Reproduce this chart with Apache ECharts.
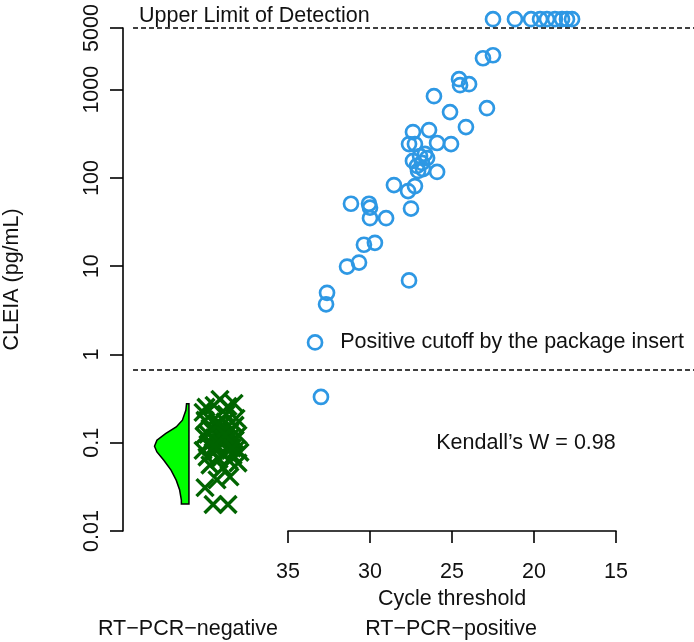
<!DOCTYPE html>
<html><head><meta charset="utf-8">
<script src="https://cdn.jsdelivr.net/npm/echarts@6/dist/echarts.min.js"></script>
<style>html,body{margin:0;padding:0;background:#fff}#c{width:694px;height:642px}</style>
</head><body><div id="c"></div>
<script>
// ---- data ----
// RT-PCR-positive: cycle threshold vs CLEIA (pg/mL); values above the upper limit plotted at 6300
const posCt = [22.50,21.16,20.18,19.63,19.21,18.72,18.29,17.99,17.68,
  23.11,22.50,24.57,24.51,23.96,26.10,25.12,22.87,24.15,27.38,26.40,
  27.62,27.26,25.91,25.06,26.95,26.65,26.52,26.83,27.13,26.77,27.38,27.07,25.91,
  28.54,27.68,27.26,31.16,30.06,30.00,30.00,29.02,27.50,30.37,29.70,
  31.40,30.67,27.62,32.62,32.68,33.35,32.99];
const posConc = [6300,6300,6300,6300,6300,6300,6300,6300,6300,
  2270,2455,1315,1125,1155,845,557,618,377,331,349,
  242,242,249,242,177,187,168,148,137,126,156,120,117,
  83,71,81,51,51,46,35,35,45,17.5,18.4,
  9.9,11,6.9,5.0,3.7,1.37,0.33];
// RT-PCR-negative: CLEIA (pg/mL) and horizontal jitter position
const negConc = [0.310,0.279,0.252,0.265,0.258,0.221,0.210,0.189,0.180,0.189,0.172,0.158,0.146,0.138,0.132,0.122,
  0.119,0.113,0.107,0.101,0.096,0.091,0.089,0.084,0.082,0.078,0.076,0.072,0.069,0.065,0.063,0.078,
  0.099,0.118,0.146,0.082,0.107,0.162,0.125,0.113,0.056,0.059,0.052,0.041,0.038,0.031,0.020,0.020,
  0.101,0.122,0.091,0.087];
const negJitter = [39.15,38.29,40.00,39.51,38.66,40.18,38.78,38.17,40.06,39.45,38.84,38.23,39.76,39.15,38.54,38.05,
  40.12,39.51,38.90,38.41,39.88,39.27,38.66,38.17,40.18,39.57,38.96,38.35,39.94,39.21,38.60,37.93,
  39.70,39.09,38.78,39.39,38.23,39.27,39.88,38.54,39.76,38.05,38.96,38.54,39.33,40.06,39.57,38.66,
  39.15,38.84,39.51,38.41];
// half-violin outline of the negative group (concentration level, relative density)
const violinConc = [0.277,0.233,0.180,0.151,0.127,0.107,0.0912,0.0787,0.0634,0.0489,0.0377,0.0291,0.0224,0.0202];
const violinDensity = [0.07,0.09,0.19,0.37,0.68,0.93,1.0,0.93,0.73,0.52,0.37,0.27,0.22,0.22];
const upperLimit = 5000;
const positiveCutoff = 0.67;
const kendallW = 0.98;
const groupNames = ['RT\u2212PCR\u2212negative', 'RT\u2212PCR\u2212positive'];

// ---- layout ----
const FONT = '"Liberation Sans", Arial, Helvetica, sans-serif';
const FS = 21.5;
const TOP = 28, BOTTOM = 111;
const negPos = 41.04, violinHalf = 2.1;
const ppu = 328 / 20;
const xMinA = 35 - (694 - 288) / ppu, xMaxA = 35 + (288 - 123) / ppu;

const chart = echarts.init(document.getElementById('c'), null, {renderer: 'canvas'});
const axisCol = '#000';
const txt = (text, x, y, align, rot) => ({
  type: 'text', x: x, y: y, rotation: rot || 0,
  style: {text: text, x: 0, y: 0, font: FS + 'px ' + FONT, fill: '#111',
    align: align, textAlign: align, verticalAlign: 'middle', textVerticalAlign: 'middle'}
});

chart.setOption({
  animation: false,
  backgroundColor: '#fff',
  grid: [
    {left: 123, top: TOP, width: 571, bottom: BOTTOM, containLabel: false, outerBoundsMode: 'none'},
    {left: 288, top: TOP, width: 328, bottom: BOTTOM, containLabel: false, outerBoundsMode: 'none'}
  ],
  xAxis: [
    {gridIndex: 0, type: 'value', inverse: true, min: xMinA, max: xMaxA, show: false},
    {gridIndex: 1, type: 'value', inverse: true, min: 15, max: 35, interval: 5,
      axisLine: {show: true, onZero: false, lineStyle: {color: axisCol, width: 1.6}},
      axisTick: {show: true, length: 12, lineStyle: {color: axisCol, width: 1.6}},
      axisLabel: {show: true, margin: 30, fontSize: FS, fontFamily: FONT, color: '#111'},
      splitLine: {show: false},
      name: 'Cycle threshold', nameLocation: 'middle', nameGap: 56,
      nameTextStyle: {fontSize: FS, fontFamily: FONT, color: '#111'}}
  ],
  yAxis: [
    {gridIndex: 0, type: 'log', logBase: 10, min: 0.01, max: upperLimit,
      axisLine: {show: true, lineStyle: {color: axisCol, width: 1.6}},
      axisTick: {show: true, length: 13, lineStyle: {color: axisCol, width: 1.6}},
      axisLabel: {show: true, rotate: 90, margin: 20, fontSize: FS, fontFamily: FONT, color: '#111',
        showMinLabel: true, showMaxLabel: true,
        formatter: v => String(+(+v).toPrecision(6))},
      minorTick: {show: false}, splitLine: {show: false}, minorSplitLine: {show: false},
      name: 'CLEIA (pg/mL)', nameLocation: 'middle', nameGap: 100, nameMoveOverlap: false,
      nameTextStyle: {fontSize: FS, fontFamily: FONT, color: '#111'}},
    {gridIndex: 1, type: 'log', logBase: 10, min: 0.01, max: upperLimit, show: false}
  ],
  series: [
    {
      type: 'custom', xAxisIndex: 0, yAxisIndex: 0, clip: false, silent: true,
      data: [[negPos, violinConc[0]]],
      renderItem: function (params, api) {
        const pts = [api.coord([negPos, violinConc[0]])];
        for (let i = 0; i < violinConc.length; i++) {
          pts.push(api.coord([negPos + violinDensity[i] * violinHalf, violinConc[i]]));
        }
        pts.push(api.coord([negPos, violinConc[violinConc.length - 1]]));
        return {type: 'polygon', shape: {points: pts},
          style: {fill: '#00FF00', stroke: '#000', lineWidth: 1.5}};
      }
    },
    {
      name: groupNames[0], type: 'scatter', xAxisIndex: 0, yAxisIndex: 0, clip: false, silent: true,
      data: negConc.map((v, i) => [negJitter[i], v]),
      symbol: 'path://M0,0L10,10M10,0L0,10', symbolSize: 17,
      itemStyle: {color: 'none', borderColor: '#006400', borderWidth: 3.4, opacity: 1},
      markLine: {
        silent: true, symbol: ['none', 'none'], label: {show: false},
        lineStyle: {color: '#000', type: [5, 3], width: 1.5},
        data: [
          [{coord: [44.45, upperLimit]}, {coord: [xMinA, upperLimit]}],
          [{coord: [44.45, positiveCutoff]}, {coord: [xMinA, positiveCutoff]}]
        ]
      }
    },
    {
      name: groupNames[1], type: 'scatter', xAxisIndex: 1, yAxisIndex: 1, clip: false, silent: true,
      data: posCt.map((c, i) => [c, posConc[i]]),
      symbol: 'circle', symbolSize: 14,
      itemStyle: {color: 'rgba(0,0,0,0)', borderColor: '#2E98E4', borderWidth: 2.7, opacity: 1}
    }
  ],
  graphic: [
    txt('Upper Limit of Detection', 139, 16.5, 'left'),
    txt('Positive cutoff by the package insert', 684, 342.5, 'right'),
    txt('Kendall\u2019s W = ' + kendallW.toFixed(2), 526, 443.5, 'center'),
    txt(groupNames[0], 188, 629.5, 'center'),
    txt(groupNames[1], 451, 629.5, 'center')
  ]
});
</script></body></html>
